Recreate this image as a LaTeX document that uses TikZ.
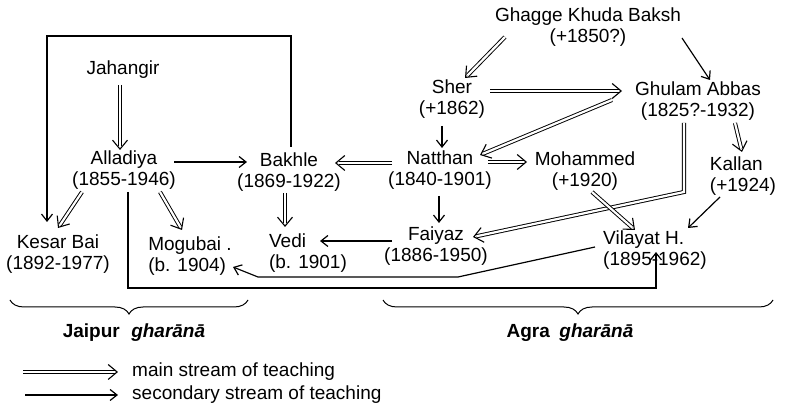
\documentclass[tikz,border=0pt]{standalone}
\usepackage{fontspec}
\setmainfont{Liberation Sans}
\usetikzlibrary{arrows.meta,decorations.pathreplacing,decorations.markings,calc}
\begin{document}
\begin{tikzpicture}[x=1pt,y=-1pt,
  every node/.style={font=\fontsize{19}{21}\selectfont, inner sep=1pt},
  person/.style={align=center},
  lperson/.style={align=left},
  lbl/.style={font=\fontsize{19}{21}\selectfont\bfseries},
  sgl/.style={line width=1.2pt, -{Straight Barb[length=7pt,width=11pt]}},
  dbl/.style={double, double distance=2.2pt, line width=0.95pt, shorten >=3.5pt,
    postaction={decorate, decoration={markings, mark=at position 1 with
      {\pgfsetinnerlinewidth{0pt}\arrow[line width=1.1pt]{Straight Barb[length=9pt,width=15pt]}}}}},
  brc/.style={line width=1pt, decorate, decoration={brace, mirror, amplitude=14pt}}
]
\useasboundingbox (0,0) rectangle (785,411);

% people
\node[person] (ghagge) at (588,27) {Ghagge Khuda Baksh\\(+1850?)};
\node[person] (jah) at (123,70) {Jahangir};
\node[person] (alla) at (124,170) {Alladiya\\(1855-1946)};
\node[person] (bakhle) at (289,172) {Bakhle\\(1869-1922)};
\node[person] (sher) at (452,99) {Sher\\(+1862)};
\node[person] (ghulam) at (698,101) {Ghulam Abbas\\(1825?-1932)};
\node[person] (natthan) at (440,170) {Natthan\\(1840-1901)};
\node[person] (moh) at (585,171) {Mohammed\\(+1920)};
\node[lperson] (kallan) at (743,176) {Kallan\\(+1924)};
\node[person] (kesar) at (58,254) {Kesar Bai\\(1892-1977)};
\node[lperson] (mogu) at (190,256) {Mogubai .\\(b. 1904)};
\node[lperson] (vedi) at (308,253) {Vedi\\(b. 1901)};
\node[person] (faiyaz) at (436,246) {Faiyaz\\(1886-1950)};
\node[lperson] (vilayat) at (655,250) {Vilayat H.\\(1895-1962)};

% main streams
\draw[dbl] ($(jah)+(-3,15)$) -- ($(alla)+(-4,-20)$);
\draw[dbl] ($(alla)+(-42,22)$) -- ($(kesar)+(0,-26)$);
\draw[dbl] ($(alla)+(36,22)$) -- ($(mogu)+(-8,-26)$);
\draw[dbl] ($(natthan)+(-48,-7)$) -- ($(bakhle)+(46,-9)$);
\draw[dbl] ($(bakhle)+(-4,21)$) -- ($(vedi)+(-23,-26)$);
\draw[dbl] ($(ghagge)+(-83,10)$) -- ($(sher)+(13,-21)$);
\draw[dbl] ($(sher)+(38,-8)$) -- ($(ghulam)+(-76,-10)$);
\draw[dbl] ($(ghulam)+(-86,-1)$) -- ($(natthan)+(40,-15)$);
\draw[dbl] ($(natthan)+(48,-8)$) -- ($(moh)+(-58,-9)$);
\draw[dbl] ($(ghulam)+(37,22)$) -- ($(kallan)+(-1,-24)$);
\draw[dbl] ($(ghulam)+(-14,22)$) -- ++(0,69) -- ($(faiyaz)+(37,-9)$);
\draw[dbl] ($(moh)+(7,21)$) -- ($(vilayat)+(-20,-20)$);

% secondary streams
\draw[sgl] ($(alla)+(50,-8)$) -- ($(bakhle)+(-42,-10)$);
\draw[sgl] ($(bakhle)+(2,-25)$) -- ++(0,-111) -| ($(kesar)+(-11,-32)$);
\draw[sgl] ($(alla)+(4,22)$) -- ++(0,96) -| ($(vilayat)+(1,2)$);
\draw[sgl] ($(faiyaz)+(-44,-5)$) -- ($(vedi)+(12,-12)$);
\draw[sgl] ($(vilayat)+(-60,-3)$) -- ++(-137,30) -- ++(-200,0) -- ($(mogu)+(43,11)$);
\draw[sgl] ($(ghagge)+(94,11)$) -- ($(ghulam)+(12,-21)$);
\draw[sgl] ($(sher)+(-10,27)$) -- ($(natthan)+(2,-22)$);
\draw[sgl] ($(kallan)+(-23,21)$) -- ($(vilayat)+(33,-22)$);
\draw[sgl] ($(natthan)+(-1,26)$) -- ($(faiyaz)+(3,-23)$);

% gharanas
\draw[brc] (10,300) -- (248,300);
\draw[brc] (383,300) -- (773,300);
\node[lbl] (jaipur) at (134,333) {Jaipur\hspace{0.6em}\textit{gharānā}};
\node[lbl] (agra) at (570,333) {Agra\hspace{0.5em}\textit{gharānā}};

% legend
\coordinate (lgmainstart) at (23,372);
\coordinate (lgsecstart) at (25,395);
\node[anchor=west] (lgmain) at (131,372) {main stream of teaching};
\node[anchor=west] (lgsec) at (131,395) {secondary stream of teaching};
\draw[dbl] (lgmainstart) -- ($(lgmain.west)+(-13,0)$);
\draw[sgl] (lgsecstart) -- ($(lgsec.west)+(-13,0)$);
\end{tikzpicture}
\end{document}
